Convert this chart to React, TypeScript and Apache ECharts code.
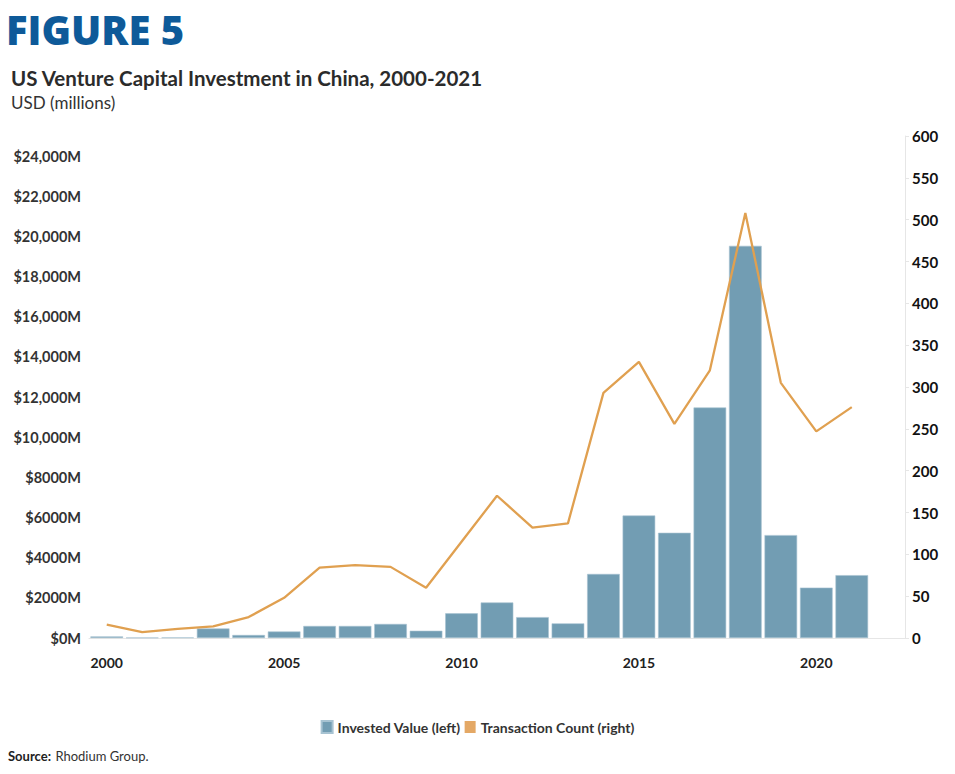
import React, { useEffect, useRef } from "react";
import * as echarts from "echarts";

const years = ["2000","2001","2002","2003","2004","2005","2006","2007","2008","2009","2010","2011","2012","2013","2014","2015","2016","2017","2018","2019","2020","2021","2022"];
const investedValue = [80, 20, 30, 475, 150, 325, 600, 600, 700, 360, 1230, 1770, 1040, 730, 3190, 6100, 5240, 11480, 19530, 5125, 2510, 3130, null];
const transactionCount = [16, 7, 11, 14, 25, 48, 84, 87, 85, 60, 115, 170, 132, 137, 293, 330, 256, 320, 508, 305, 247, 276, null];
const leftTicks = { min: 0, max: 25000, interval: 2000 };
const rightTicks = { min: 0, max: 600, interval: 50 };

const FONT = "Lato, 'Noto Sans', sans-serif";

export default function App() {
  const ref = useRef<HTMLDivElement>(null);
  useEffect(() => {
    if (!ref.current) return;
    const chart = echarts.init(ref.current, null, { renderer: "svg" });
    chart.setOption({
      animation: false,
      backgroundColor: "#ffffff",
      textStyle: { fontFamily: FONT },
      title: [
        {
          text: "FIGURE 5",
          left: 6,
          top: 9,
          padding: 0,
          textStyle: { fontFamily: "'Open Sans', Lato, sans-serif", fontSize: 40, fontWeight: 800, color: "#0e5a99" },
        },
        {
          text: "US Venture Capital Investment in China, 2000-2021",
          left: 11,
          top: 67,
          padding: 0,
          textStyle: { fontFamily: FONT, fontSize: 20.5, fontWeight: "bold", color: "#2b2b2b" },
        },
        {
          text: "USD (millions)",
          left: 11,
          top: 94,
          padding: 0,
          textStyle: { fontFamily: FONT, fontSize: 17, fontWeight: "normal", color: "#333333" },
        },
        {
          text: "{b|Source:} {r|Rhodium Group.}",
          left: 8,
          top: 747,
          padding: 0,
          textStyle: {
            fontFamily: FONT,
            rich: {
              b: { fontFamily: FONT, fontSize: 13, fontWeight: "bold", color: "#222" },
              r: { fontFamily: FONT, fontSize: 13, fontWeight: "normal", color: "#333" },
            },
          },
        },
      ],
      legend: {
        top: 715,
        left: "center",
        itemWidth: 11,
        itemHeight: 12,
        itemGap: 4,
        icon: "rect",
        data: ["Invested Value (left)", "Transaction Count (right)"],
        textStyle: { fontFamily: FONT, fontSize: 14, fontWeight: "bold", color: "#333" },
      },
      grid: { left: 89, right: 50, top: 136, bottom: 136, containLabel: false },
      xAxis: {
        type: "category",
        data: years,
        axisLine: { show: true, lineStyle: { color: "#e6e6e6", width: 1 } },
        axisTick: { show: false },
        axisLabel: {
          interval: 0,
          margin: 17,
          fontFamily: FONT,
          fontSize: 14,
          fontWeight: "bold",
          color: "#222",
          formatter: (v: string) => (parseInt(v, 10) % 5 === 0 && v !== "2025" ? v : ""),
        },
      },
      yAxis: [
        {
          type: "value",
          min: leftTicks.min,
          max: leftTicks.max,
          interval: leftTicks.interval,
          splitLine: { show: false },
          axisLine: { show: false },
          axisTick: { show: false },
          axisLabel: {
            showMaxLabel: false,
            margin: 8,
            fontFamily: FONT,
            fontSize: 14.5,
            fontWeight: "bold",
            color: "#333",
            formatter: (v: number) => {
              if (v >= 10000) return "$" + v.toLocaleString("en-US") + "M";
              return "$" + v + "M";
            },
          },
        },
        {
          type: "value",
          position: "right",
          min: rightTicks.min,
          max: rightTicks.max,
          interval: rightTicks.interval,
          splitLine: { show: false },
          axisLine: { show: true, lineStyle: { color: "#e6e6e6" } },
          axisTick: { show: true, length: 4, lineStyle: { color: "#e6e6e6" } },
          axisLabel: {
            margin: 7,
            fontFamily: FONT,
            fontSize: 15,
            fontWeight: "bold",
            color: "#111",
          },
        },
      ],
      series: [
        {
          name: "Invested Value (left)",
          type: "bar",
          yAxisIndex: 0,
          data: investedValue,
          barCategoryGap: "8%",
          itemStyle: { color: "#729db3", borderColor: "#a7c3d2", borderWidth: 0.6 },
        },
        {
          name: "Transaction Count (right)",
          type: "line",
          yAxisIndex: 1,
          data: transactionCount,
          symbol: "none",
          lineStyle: { color: "#e0a050", width: 2.3 },
          itemStyle: { color: "#e4a865" },
        },
      ],
    });
    return () => chart.dispose();
  }, []);
  return (
    <div
      ref={ref}
      style={{ position: "fixed", left: 0, top: 0, width: 955, height: 774, background: "#fff" }}
    />
  );
}
